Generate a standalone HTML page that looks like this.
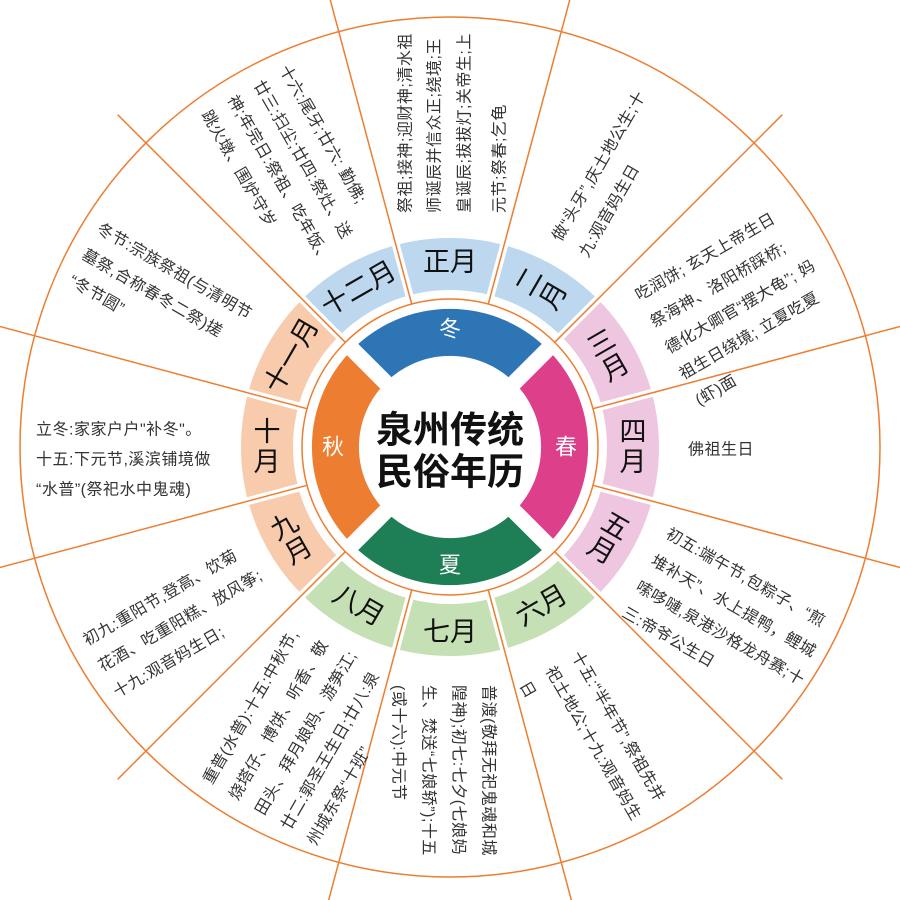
<!DOCTYPE html>
<html><head><meta charset="utf-8"><style>
html,body{margin:0;padding:0;background:#fff;}
svg{display:block;}
text{font-family:"Liberation Sans","Noto Sans CJK SC",sans-serif;}
.d{font-size:16px;fill:#333;dominant-baseline:central;letter-spacing:0.5px;}
.m{font-size:27px;fill:#111;text-anchor:middle;dominant-baseline:central;}
.s{font-size:22px;fill:#fff;text-anchor:middle;dominant-baseline:central;}
</style></head><body>
<svg width="900" height="900" viewBox="0 0 900 900" xmlns="http://www.w3.org/2000/svg">
<rect width="900" height="900" fill="#fff"/>
<circle cx="450" cy="447" r="430" fill="none" stroke="#ed7d31" stroke-width="1.5"/>
<g fill="none" stroke-width="52">
<path d="M320.6,317.6 A183,183 0 0 1 579.4,317.6" stroke="#bdd7ee"/>
<path d="M579.4,317.6 A183,183 0 0 1 579.4,576.4" stroke="#efc6df"/>
<path d="M579.4,576.4 A183,183 0 0 1 320.6,576.4" stroke="#c5e0b4"/>
<path d="M320.6,576.4 A183,183 0 0 1 320.6,317.6" stroke="#f8cbad"/>
</g>
<g fill="none" stroke-width="47">
<path d="M369,366 A114.5,114.5 0 0 1 531,366" stroke="#2e75b6"/>
<path d="M531,366 A114.5,114.5 0 0 1 531,528" stroke="#de3f8a"/>
<path d="M531,528 A114.5,114.5 0 0 1 369,528" stroke="#1e7e55"/>
<path d="M369,528 A114.5,114.5 0 0 1 369,366" stroke="#ed7d31"/>
</g>
<g stroke="#fff" stroke-width="16">
<line x1="390" y1="387" x2="345" y2="342"/><line x1="510" y1="387" x2="555" y2="342"/>
<line x1="510" y1="507" x2="555" y2="552"/><line x1="390" y1="507" x2="345" y2="552"/>
</g>
<g stroke="#fff" stroke-width="8">
<line x1="488.8" y1="302" x2="506" y2="238"/>
<line x1="556" y1="341" x2="603" y2="294"/>
<line x1="595" y1="408" x2="659" y2="391"/>
<line x1="595" y1="486" x2="659" y2="503"/>
<line x1="556" y1="553" x2="603" y2="600"/>
<line x1="488.8" y1="592" x2="506" y2="656"/>
<line x1="411.2" y1="592" x2="394" y2="656"/>
<line x1="344" y1="553" x2="297" y2="600"/>
<line x1="305" y1="486" x2="241" y2="503"/>
<line x1="305" y1="408" x2="241" y2="391"/>
<line x1="344" y1="341" x2="297" y2="294"/>
<line x1="411.2" y1="302" x2="394" y2="238"/>
</g>
<circle cx="450" cy="447" r="148" fill="none" stroke="#ed7d31" stroke-width="1.5"/>
<g stroke="#ed7d31" stroke-width="1.5">
<line x1="488.3" y1="304" x2="571.6" y2="-7"/>
<line x1="554.7" y1="342.3" x2="782.3" y2="114.7"/>
<line x1="593" y1="408.7" x2="904" y2="325.4"/>
<line x1="593" y1="485.3" x2="904" y2="568.6"/>
<line x1="554.7" y1="551.7" x2="782.3" y2="779.3"/>
<line x1="488.3" y1="590" x2="571.6" y2="901"/>
<line x1="411.7" y1="590" x2="328.4" y2="901"/>
<line x1="345.3" y1="551.7" x2="117.7" y2="779.3"/>
<line x1="307" y1="485.3" x2="-4" y2="568.6"/>
<line x1="307" y1="408.7" x2="-4" y2="325.4"/>
<line x1="345.3" y1="342.3" x2="117.7" y2="114.7"/>
<line x1="411.7" y1="304" x2="328.4" y2="-7"/>
</g>
<text x="450" y="430" font-size="37" font-weight="bold" text-anchor="middle" dominant-baseline="central" fill="#111">泉州传统</text>
<text x="450" y="472" font-size="37" font-weight="bold" text-anchor="middle" dominant-baseline="central" fill="#111">民俗年历</text>
<text class="s" x="450" y="329">冬</text>
<text class="s" x="566" y="447">春</text>
<text class="s" x="450" y="565">夏</text>
<text class="s" x="333" y="447">秋</text>
<text class="m" x="450" y="262">正月</text>
<g transform="translate(541.5,288.5) rotate(-60)"><text class="m" x="0" y="-14">二</text><text class="m" x="0" y="14">月</text></g>
<g transform="translate(608.5,355.5) rotate(-30)"><text class="m" x="0" y="-14">三</text><text class="m" x="0" y="14">月</text></g>
<g transform="translate(633,447)"><text class="m" x="0" y="-15">四</text><text class="m" x="0" y="15">月</text></g>
<g transform="translate(608.5,538.5) rotate(30)"><text class="m" x="0" y="-14">五</text><text class="m" x="0" y="14">月</text></g>
<text class="m" transform="translate(541.5,605.5) rotate(-30)">六月</text>
<text class="m" x="450" y="632">七月</text>
<text class="m" transform="translate(358.5,605.5) rotate(30)">八月</text>
<g transform="translate(291.5,538.5) rotate(-30)"><text class="m" x="0" y="-14">九</text><text class="m" x="0" y="14">月</text></g>
<g transform="translate(267,447)"><text class="m" x="0" y="-15">十</text><text class="m" x="0" y="15">月</text></g>
<text class="m" transform="translate(291.5,355.5) rotate(-60)">十一月</text>
<text class="m" transform="translate(358.5,288.5) rotate(-30)">十二月</text>
<text class="d" transform="translate(406,213) rotate(-90)">祭祖;接神;迎财神;清水祖</text>
<text class="d" transform="translate(435,213) rotate(-90)">师诞辰并信众正;绕境;王</text>
<text class="d" transform="translate(465,213) rotate(-90)">皇诞辰;拔拔灯;关帝生;上</text>
<text class="d" transform="translate(500,213) rotate(-90)">元节;祭春;乞龟</text>
<text class="d" transform="translate(557,240) rotate(-60)">做“头牙”,庆土地公生;十</text>
<text class="d" transform="translate(584,256) rotate(-60)">九:观音妈生日</text>
<text class="d" transform="translate(637,297) rotate(-30)">吃润饼; 玄天上帝生日</text>
<text class="d" transform="translate(652,324) rotate(-30)">祭海神、洛阳桥踩桥;</text>
<text class="d" transform="translate(667,350) rotate(-30)">德化大卿官“摆大龟”; 妈</text>
<text class="d" transform="translate(681,376) rotate(-30)">祖生日绕境; 立夏吃夏</text>
<text class="d" transform="translate(697,402) rotate(-30)">(虾)面</text>
<text class="d" x="688" y="450">佛祖生日</text>
<text class="d" transform="translate(667,533) rotate(30)">初五:端午节,包粽子、“煎</text>
<text class="d" transform="translate(652,560) rotate(30)">堆补天”、水上提鸭，鲤城</text>
<text class="d" transform="translate(637,586) rotate(30)">嗦哆嗹,泉港沙格龙舟赛;十</text>
<text class="d" transform="translate(623,612) rotate(30)">三:帝爷公生日</text>
<text class="d" transform="translate(575,653) rotate(60)">十五:“半年节”,祭祖先并</text>
<text class="d" transform="translate(549,668) rotate(60)">祀土地公;十九:观音妈生</text>
<text class="d" transform="translate(523,683) rotate(60)">日</text>
<text class="d" transform="translate(488,685) rotate(90)">普渡(敬拜无祀鬼魂和城</text>
<text class="d" transform="translate(458,685) rotate(90)">隍神);初七:七夕(七娘妈</text>
<text class="d" transform="translate(428,685) rotate(90)">生、焚送“七娘轿”);十五</text>
<text class="d" transform="translate(398,685) rotate(90)">(或十六):中元节</text>
<text class="d" transform="translate(208,783) rotate(-60)">重普(水普):十五:中秋节,</text>
<text class="d" transform="translate(234,799) rotate(-60)">烧塔仔、博饼、听香、敬</text>
<text class="d" transform="translate(260,814) rotate(-60)">田头、拜月娘妈、游笋江;</text>
<text class="d" transform="translate(286,829) rotate(-60)">廿二:郭圣王生日;廿八:泉</text>
<text class="d" transform="translate(312,844) rotate(-60)">州城东祭“十班”</text>
<text class="d" transform="translate(85,642) rotate(-30)">初九:重阳节,登高、饮菊</text>
<text class="d" transform="translate(100,668) rotate(-30)">花酒、吃重阳糕、放风筝;</text>
<text class="d" transform="translate(115,694) rotate(-30)">十九:观音妈生日;</text>
<text class="d" x="36" y="430">立冬:家家户户"补冬"。</text>
<text class="d" x="36" y="460">十五:下元节,溪滨铺境做</text>
<text class="d" x="36" y="490">“水普”(祭祀水中鬼魂)</text>
<text class="d" transform="translate(98,228) rotate(30)">冬节:宗族祭祖(与清明节</text>
<text class="d" transform="translate(83,254) rotate(30)">墓祭,合称春冬二祭)搓</text>
<text class="d" transform="translate(70,280) rotate(30)">“冬节圆”</text>
<text class="d" transform="translate(283,67) rotate(60)">十六:尾牙;廿六: 勤佛;</text>
<text class="d" transform="translate(257,82) rotate(60)">廿三:扫尘;廿四:祭灶、送</text>
<text class="d" transform="translate(231,97) rotate(60)">神;年完日:祭祖、吃年饭、</text>
<text class="d" transform="translate(205,112) rotate(60)">跳火墩、围炉守岁</text>
</svg>
</body></html>
